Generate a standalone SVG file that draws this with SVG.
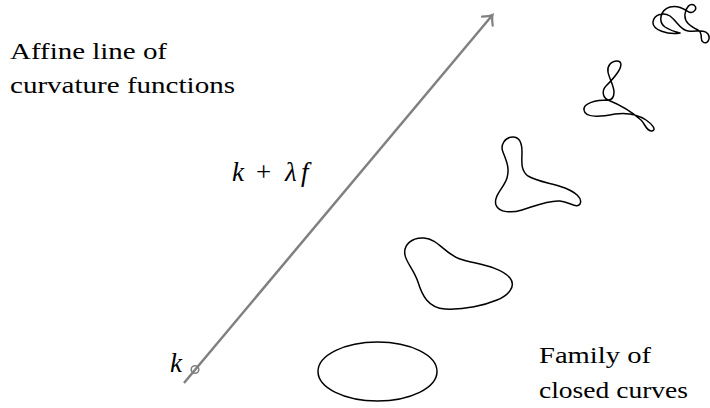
<svg xmlns="http://www.w3.org/2000/svg" width="710" height="408" viewBox="0 0 710 408">
<style>
.lbl{font-family:"Liberation Serif","Times New Roman",serif;font-size:24px;fill:#000}
.math{font-family:"Liberation Serif","Times New Roman",serif;font-size:27px;fill:#000}
.it{font-style:italic}
.curve{fill:none;stroke:#000;stroke-width:1.5;stroke-linejoin:round}
.axis{fill:none;stroke:#808080;stroke-width:2.5}
</style>
<defs>
<marker id="arr" markerUnits="userSpaceOnUse" markerWidth="20" markerHeight="20" refX="0" refY="0" viewBox="-10 -10 20 20" orient="auto">
<path d="M-8,-7 Q-3,-1.5 0,0 Q-3,1.5 -8,7" fill="none" stroke="#808080" stroke-width="2.2" stroke-linecap="round"/>
</marker>
</defs>
<g id="connectors">
<line class="axis" x1="184" y1="383" x2="492.5" y2="15" marker-end="url(#arr)"/>
<circle cx="195" cy="369.5" r="3.8" fill="none" stroke="#808080" stroke-width="1.6"/>
</g>
<g id="label-affine">
<text class="lbl" x="10" y="59" textLength="157" lengthAdjust="spacingAndGlyphs">Affine line of</text>
<text class="lbl" x="10" y="93" textLength="225" lengthAdjust="spacingAndGlyphs">curvature functions</text>
</g>
<g id="label-k-lambda-f">
<text class="math"><tspan class="it" x="232" y="181">k</tspan><tspan x="256" y="181">+</tspan><tspan class="it" x="285" y="181">λ</tspan><tspan class="it" x="301" y="181">f</tspan></text>
</g>
<g id="label-k">
<text class="math it" x="170" y="372">k</text>
</g>
<g id="label-family">
<text class="lbl" x="539" y="363" textLength="112" lengthAdjust="spacingAndGlyphs">Family of</text>
<text class="lbl" x="539" y="398" textLength="149" lengthAdjust="spacingAndGlyphs">closed curves</text>
</g>
<g id="curve-ellipse">
<ellipse class="curve" cx="377.5" cy="371.5" rx="59.5" ry="29.5"/>
</g>
<g id="curve-blob">
<path class="curve" d="M405,255 C403,245 412,237 424,238 C438,239 445,254 460,259 C475,264 500,266 510,278 C517,287 507,296 497,300 C485,305 465,310 445,309 C428,308 422,295 418,282 C414,270 406,262 405,255 Z"/>
</g>
<g id="curve-boomerang">
<path class="curve" d="M513,137 C505,137 500,145 503,152 C506,160 510,168 507,178 C504,188 493,196 496,205 C499,213 512,213 522,210 C535,206 548,200 560,201 C570,202 577,209 580,204 C583,198 575,192 565,188 C552,183 538,182 528,176 C520,170 522,160 522,152 C522,143 520,137 513,137 Z"/>
</g>
<g id="curve-loops">
<path class="curve" d="M608,100 C596,100 583,103 584,110 C585,118 600,117 615,114 C630,112 640,116 646,120 C652,124 657,130 652,131 C647,132 645,124 641,120 C632,112 618,104 608,100 C602,97 602,90 606,86 C609,83 614,78 618,72 C622,66 622,61 617,61 C611,61 607,66 608,72 C609,78 614,86 614,92 C614,97 612,100 608,100 Z"/>
</g>
<g id="curve-tangle">
<path class="curve" d="M680,33 C668,35 652,30 653,22 C654,14 664,12 670,16 C678,22 680,30 688,31 C697,32 704,29 708,34 C711,39 707,45 703,42 C699,39 704,34 698,30 C690,26 684,22 685,14 C686,7 690,3 694,5 C698,8 694,14 689,12 C684,9 678,5 670,7 C660,10 658,22 665,27 C671,31 676,32 680,33 Z"/>
</g>
</svg>
